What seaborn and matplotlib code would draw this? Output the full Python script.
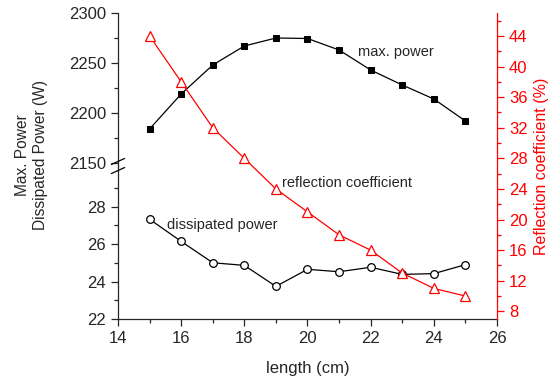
import matplotlib
matplotlib.use("Agg")
import matplotlib.pyplot as plt
import seaborn as sns
import pandas as pd

length = [15, 16, 17, 18, 19, 20, 21, 22, 23, 24, 25]
max_power = [2184, 2219, 2248, 2267, 2275, 2274.5, 2263, 2243, 2228, 2214, 2192]
dissipated_power = [27.32, 26.14, 25.0, 24.86, 23.74, 24.65, 24.52, 24.76, 24.38, 24.42, 24.9]
reflection = [44, 38, 32, 28, 24, 21, 18, 16, 13, 11, 10]

sns.set_style("ticks")
plt.rcParams['font.family'] = ['Liberation Sans', 'DejaVu Sans']
plt.rcParams['font.size'] = 11

df = pd.DataFrame({"length": length, "max": max_power, "diss": dissipated_power, "refl": reflection})

fig = plt.figure(figsize=(5.56, 3.79), dpi=100)
L, R, B, T, BRK = 0.2122, 0.8939, 0.1583, 0.9657, 0.562
ax_up = fig.add_axes([L, BRK, R - L, T - BRK])
ax_lo = fig.add_axes([L, B, R - L, BRK - B])
ax_r = fig.add_axes([L, B, R - L, T - B])
ax_r.patch.set_alpha(0)
for a in (ax_up, ax_lo):
    a.patch.set_alpha(0)

sns.lineplot(data=df, x="length", y="max", ax=ax_up, color="black", marker="s",
             markersize=5, markeredgecolor="black", linewidth=0.9)
sns.lineplot(data=df, x="length", y="diss", ax=ax_lo, color="black", marker="o",
             markersize=5.5, markerfacecolor="white", markeredgecolor="black",
             markeredgewidth=0.9, linewidth=0.9)
sns.lineplot(data=df, x="length", y="refl", ax=ax_r, color="red", marker="^",
             markersize=7, markerfacecolor="white", markeredgecolor="red",
             markeredgewidth=0.9, linewidth=0.9)

for a in (ax_up, ax_lo, ax_r):
    a.set_xlim(14, 26)
    a.set_xlabel("")
    a.set_ylabel("")

ax_up.set_ylim(2147, 2300)
ax_up.set_yticks([2150, 2200, 2250, 2300])
ax_up.set_yticks([2175, 2225, 2275], minor=True)
ax_up.set_xticks([])
for s in ("top", "right", "bottom"):
    ax_up.spines[s].set_visible(False)

ax_lo.set_ylim(22, 30.16)
ax_lo.set_yticks([22, 24, 26, 28])
ax_lo.set_yticks([23, 25, 27, 29], minor=True)
ax_lo.set_xticks([14, 16, 18, 20, 22, 24, 26])
ax_lo.set_xticks([15, 17, 19, 21, 23, 25], minor=True)
for s in ("top", "right"):
    ax_lo.spines[s].set_visible(False)
ax_lo.set_xlabel("length (cm)", fontsize=12, labelpad=11)

ax_r.set_ylim(7, 47)
ax_r.yaxis.tick_right()
ax_r.yaxis.set_label_position("right")
ax_r.set_yticks([8, 12, 16, 20, 24, 28, 32, 36, 40, 44])
ax_r.set_yticks([10, 14, 18, 22, 26, 30, 34, 38, 42, 46], minor=True)
ax_r.set_xticks([])
for s in ("top", "left", "bottom"):
    ax_r.spines[s].set_visible(False)
ax_r.spines["right"].set_color("red")
ax_r.tick_params(axis="y", which="both", colors="red", labelcolor="red")
ax_r.set_ylabel("Reflection coefficient (%)", color="red", fontsize=11.5, labelpad=5)

for a in (ax_up, ax_lo, ax_r):
    a.tick_params(which="major", length=5, width=0.9, labelsize=12)
    a.tick_params(which="minor", length=3, width=0.9)
    for s in a.spines.values():
        s.set_linewidth(0.9)

fig.text(0.057, 0.591, "Max. Power\nDissipated Power (W)", rotation=90,
         ha="center", va="center", fontsize=11.2, linespacing=1.25)

# break marks
for dy in (-0.012, 0.012):
    fig.add_artist(plt.Line2D([L - 0.012, L + 0.012], [BRK + dy - 0.008, BRK + dy + 0.008],
                              color="black", linewidth=0.9, transform=fig.transFigure))

ax_up.text(21.6, 2261, "max. power", fontsize=10.5, ha="left", va="center")
ax_r.text(19.2, 24.75, "reflection coefficient", fontsize=10.5, ha="left", va="center")
ax_lo.text(15.55, 27.0, "dissipated power", fontsize=10.5, ha="left", va="center")

fig.savefig("out.png", dpi=100)
